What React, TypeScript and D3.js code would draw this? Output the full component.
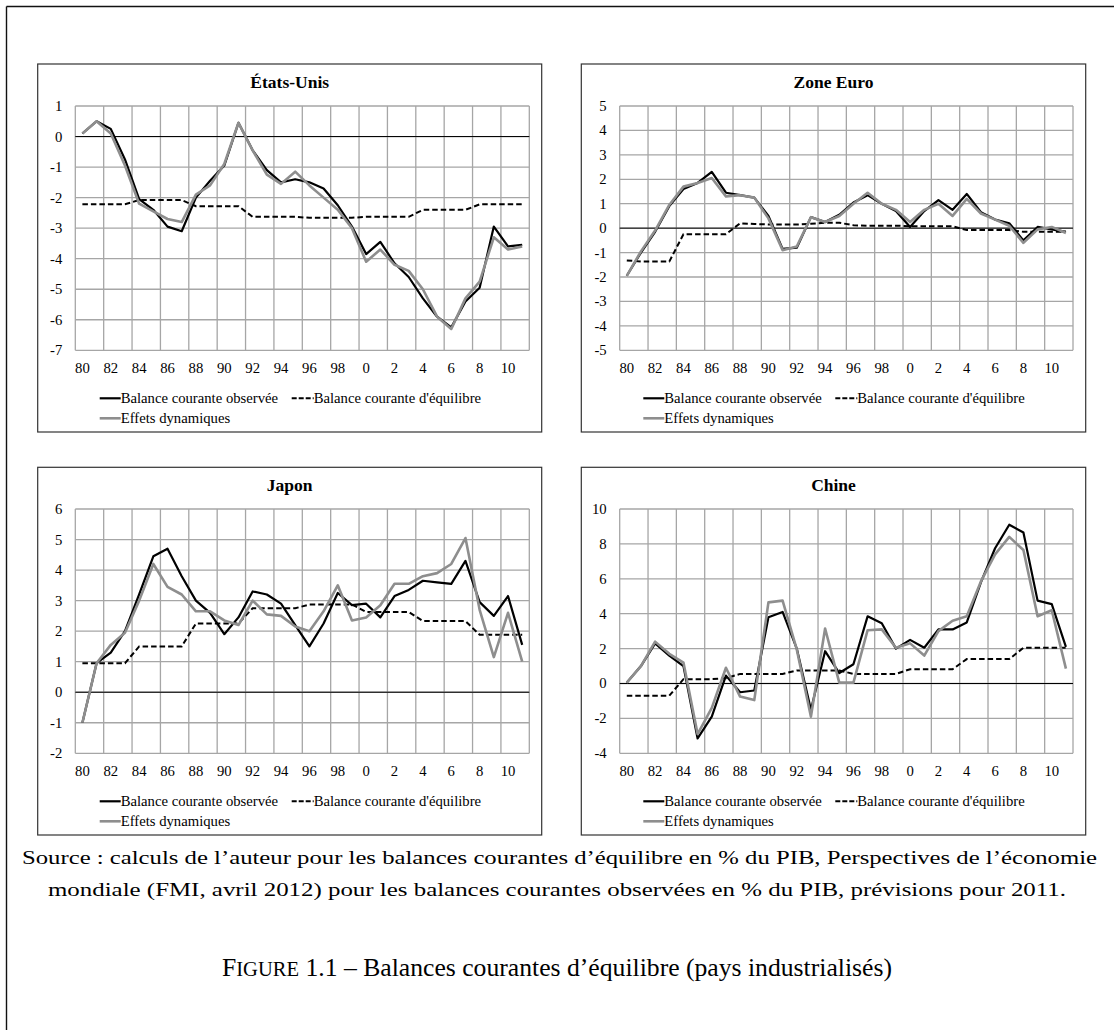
import React from 'react';
import * as d3 from 'd3';

// ---------- data ----------
const YEARS = [1980, 1981, 1982, 1983, 1984, 1985, 1986, 1987, 1988, 1989, 1990, 1991, 1992, 1993, 1994, 1995,
  1996, 1997, 1998, 1999, 2000, 2001, 2002, 2003, 2004, 2005, 2006, 2007, 2008, 2009, 2010, 2011];
const X_TICK_YEARS = [1980, 1982, 1984, 1986, 1988, 1990, 1992, 1994, 1996, 1998, 2000, 2002, 2004, 2006, 2008, 2010];
const X_TICK_LABELS = ['80', '82', '84', '86', '88', '90', '92', '94', '96', '98', '0', '2', '4', '6', '8', '10'];

const SERIES_NAMES = ['Balance courante observée', "Balance courante d'équilibre", 'Effets dynamiques'];
const PANEL_TITLES = ['États-Unis', 'Zone Euro', 'Japon', 'Chine'];

const US_TICKS = [1, 0, -1, -2, -3, -4, -5, -6, -7];
const EZ_TICKS = [5, 4, 3, 2, 1, 0, -1, -2, -3, -4, -5];
const JP_TICKS = [6, 5, 4, 3, 2, 1, 0, -1, -2];
const CN_TICKS = [10, 8, 6, 4, 2, 0, -2, -4];

const US_OBS = [0.1, 0.5, 0.25, -0.75, -2.05, -2.4, -2.95, -3.1, -2.0, -1.45, -0.95, 0.45, -0.45, -1.1, -1.5, -1.4,
  -1.5, -1.7, -2.25, -2.95, -3.85, -3.45, -4.15, -4.6, -5.3, -5.9, -6.25, -5.4, -4.95, -2.95, -3.6, -3.55];
const US_EQ = [-2.22, -2.22, -2.22, -2.22, -2.08, -2.08, -2.08, -2.08, -2.28, -2.28, -2.28, -2.28, -2.63, -2.63, -2.63, -2.63,
  -2.66, -2.66, -2.66, -2.66, -2.63, -2.63, -2.63, -2.63, -2.4, -2.4, -2.4, -2.4, -2.22, -2.22, -2.22, -2.22];
const US_DYN = [0.1, 0.5, 0.1, -0.95, -2.2, -2.45, -2.7, -2.8, -1.9, -1.6, -0.9, 0.45, -0.45, -1.25, -1.55, -1.15,
  -1.6, -2.0, -2.4, -3.0, -4.1, -3.7, -4.2, -4.4, -5.0, -5.9, -6.3, -5.3, -4.75, -3.3, -3.7, -3.6];

const EZ_OBS = [-1.95, -1.0, -0.15, 0.9, 1.6, 1.85, 2.3, 1.45, 1.35, 1.25, 0.5, -0.85, -0.8, 0.45, 0.25, 0.55,
  1.05, 1.35, 1.0, 0.7, 0.05, 0.7, 1.15, 0.75, 1.4, 0.65, 0.35, 0.2, -0.5, 0.05, -0.05, -0.15];
const EZ_EQ = [-1.32, -1.37, -1.37, -1.37, -0.25, -0.25, -0.25, -0.25, 0.2, 0.17, 0.15, 0.15, 0.15, 0.18, 0.22, 0.22,
  0.12, 0.1, 0.1, 0.1, 0.08, 0.08, 0.08, 0.08, -0.08, -0.08, -0.08, -0.08, -0.15, -0.15, -0.15, -0.15];
const EZ_DYN = [-1.95, -0.95, -0.1, 0.95, 1.7, 1.85, 2.05, 1.3, 1.35, 1.25, 0.4, -0.9, -0.75, 0.45, 0.25, 0.5,
  1.0, 1.45, 1.0, 0.75, 0.25, 0.75, 1.0, 0.5, 1.2, 0.6, 0.35, 0.1, -0.6, -0.05, 0.05, -0.2];

const JP_OBS = [-1.0, 0.95, 1.3, 2.0, 3.2, 4.45, 4.7, 3.8, 3.0, 2.6, 1.9, 2.45, 3.3, 3.2, 2.9, 2.2,
  1.5, 2.25, 3.25, 2.85, 2.9, 2.45, 3.15, 3.35, 3.65, 3.6, 3.55, 4.3, 2.95, 2.5, 3.15, 1.55];
const JP_EQ = [0.95, 0.95, 0.95, 0.95, 1.5, 1.5, 1.5, 1.5, 2.25, 2.25, 2.25, 2.25, 2.75, 2.75, 2.75, 2.75,
  2.87, 2.87, 2.87, 2.87, 2.63, 2.63, 2.63, 2.63, 2.33, 2.33, 2.33, 2.33, 1.88, 1.88, 1.88, 1.88];
const JP_DYN = [-1.0, 0.95, 1.55, 1.95, 3.0, 4.2, 3.45, 3.2, 2.65, 2.65, 2.35, 2.2, 3.0, 2.55, 2.5, 2.15,
  2.0, 2.65, 3.5, 2.35, 2.45, 2.85, 3.55, 3.55, 3.8, 3.9, 4.2, 5.05, 2.7, 1.15, 2.6, 1.0];

const CN_OBS = [0.05, 1.0, 2.3, 1.6, 1.0, -3.15, -1.9, 0.45, -0.5, -0.4, 3.8, 4.1, 2.0, -1.5, 1.85, 0.6,
  1.1, 3.85, 3.45, 2.0, 2.5, 2.05, 3.1, 3.1, 3.5, 5.8, 7.75, 9.1, 8.65, 4.75, 4.55, 2.1];
const CN_EQ = [-0.7, -0.7, -0.7, -0.7, 0.25, 0.25, 0.25, 0.3, 0.55, 0.55, 0.55, 0.55, 0.75, 0.75, 0.75, 0.75,
  0.55, 0.55, 0.55, 0.55, 0.82, 0.82, 0.82, 0.82, 1.4, 1.4, 1.4, 1.4, 2.05, 2.05, 2.05, 2.05];
const CN_DYN = [0.05, 1.0, 2.4, 1.7, 1.2, -2.9, -1.4, 0.9, -0.75, -0.95, 4.65, 4.75, 1.95, -1.9, 3.15, 0.05,
  0.05, 3.05, 3.1, 2.05, 2.3, 1.6, 3.0, 3.6, 3.85, 5.85, 7.4, 8.4, 7.65, 3.85, 4.2, 0.85];

const SOURCE_LINE_1 = 'Source : calculs de l\u2019auteur pour les balances courantes d\u2019\u00e9quilibre en % du PIB, Perspectives de l\u2019\u00e9conomie';
const SOURCE_LINE_2 = 'mondiale (FMI, avril 2012) pour les balances courantes observ\u00e9es en % du PIB, pr\u00e9visions pour 2011.';

// ---------- layout / styles ----------
const FONT = '"Liberation Serif", "Times New Roman", serif';
const BLACK = '#000000';
const GRAY = '#8e8e8e';
const GRID = '#a6a6a6';

const PANELS = [
  { title: PANEL_TITLES[0], ticks: US_TICKS, obs: US_OBS, eq: US_EQ, dyn: US_DYN, box: [37.7, 64, 541.7, 432], plot: [75.3, 106, 529.3, 350.3] },
  { title: PANEL_TITLES[1], ticks: EZ_TICKS, obs: EZ_OBS, eq: EZ_EQ, dyn: EZ_DYN, box: [581.3, 64, 1085.7, 432], plot: [619.7, 106, 1073, 350.3] },
  { title: PANEL_TITLES[2], ticks: JP_TICKS, obs: JP_OBS, eq: JP_EQ, dyn: JP_DYN, box: [37.7, 467.3, 541.7, 835], plot: [75.3, 509, 529.3, 753.3] },
  { title: PANEL_TITLES[3], ticks: CN_TICKS, obs: CN_OBS, eq: CN_EQ, dyn: CN_DYN, box: [581.3, 467.3, 1085.7, 835], plot: [619.7, 509, 1073, 753.3] },
];

type PanelProps = { title: string; ticks: number[]; obs: number[]; eq: number[]; dyn: number[]; box: number[]; plot: number[] };

function Panel({ title, ticks, obs, eq, dyn, box, plot }: PanelProps) {
  const [bx0, by0, bx1, by1] = box;
  const [px0, py0, px1, py1] = plot;
  const x = d3.scaleBand<number>().domain(YEARS).range([px0, px1]).paddingInner(0).paddingOuter(0);
  const y = d3.scaleLinear().domain([d3.min(ticks) as number, d3.max(ticks) as number]).range([py1, py0]);
  const cx = (yr: number) => (x(yr) as number) + x.bandwidth() / 2;
  const line = d3.line<number>().x((_, i) => cx(YEARS[i])).y((d) => y(d));
  const vGrid = [...X_TICK_YEARS.map((yr) => x(yr) as number), px1];
  const cxBox = (bx0 + bx1) / 2;
  const row1 = py1 + 48;
  const row2 = py1 + 68;
  const l1 = bx0 + 62;
  const l2 = bx0 + 254;
  const legendFont = { fontFamily: FONT, fontSize: 14.7, fill: '#000' };
  return (
    <g>
      <rect x={bx0} y={by0} width={bx1 - bx0} height={by1 - by0} fill="#fff" stroke="#333" strokeWidth={1.2} />
      <text x={cxBox} y={py0 - 18.5} textAnchor="middle" style={{ fontFamily: FONT, fontSize: 17.5, fontWeight: 'bold' }}>{title}</text>
      {ticks.map((t) => (
        <line key={'h' + t} x1={px0} x2={px1} y1={y(t)} y2={y(t)} stroke={GRID} strokeWidth={1.3} />
      ))}
      {vGrid.map((gx, i) => (
        <line key={'v' + i} x1={gx} x2={gx} y1={py0} y2={py1} stroke={GRID} strokeWidth={1.3} />
      ))}
      <line x1={px0} x2={px1} y1={y(0)} y2={y(0)} stroke="#000" strokeWidth={1} />
      {ticks.map((t) => (
        <text key={'yt' + t} x={px0 - 13} y={y(t)} dy="0.34em" textAnchor="end" style={{ fontFamily: FONT, fontSize: 14.7 }}>{t}</text>
      ))}
      {X_TICK_YEARS.map((yr, i) => (
        <text key={'xt' + yr} x={cx(yr)} y={py1 + 23} textAnchor="middle" style={{ fontFamily: FONT, fontSize: 14.7 }}>{X_TICK_LABELS[i]}</text>
      ))}
      <path d={line(obs) as string} fill="none" stroke={BLACK} strokeWidth={2.2} strokeLinejoin="round" />
      <path d={line(eq) as string} fill="none" stroke={BLACK} strokeWidth={2} strokeDasharray="5.5,3" />
      <path d={line(dyn) as string} fill="none" stroke={GRAY} strokeWidth={2.6} strokeLinejoin="round" />
      {/* legend */}
      <line x1={l1} x2={l1 + 21} y1={row1} y2={row1} stroke={BLACK} strokeWidth={2.2} />
      <text x={l1 + 21} y={row1} dy="0.34em" style={legendFont}>{SERIES_NAMES[0]}</text>
      <line x1={l2} x2={l2 + 22} y1={row1} y2={row1} stroke={BLACK} strokeWidth={2} strokeDasharray="5,2" />
      <text x={l2 + 22} y={row1} dy="0.34em" style={legendFont}>{SERIES_NAMES[1]}</text>
      <line x1={l1} x2={l1 + 21} y1={row2} y2={row2} stroke={GRAY} strokeWidth={2.6} />
      <text x={l1 + 21} y={row2} dy="0.34em" style={legendFont}>{SERIES_NAMES[2]}</text>
    </g>
  );
}

export default function App() {
  return (
    <svg width={1114} height={1030} viewBox="0 0 1114 1030" style={{ position: 'absolute', left: 0, top: 0, background: '#fff' }}>
      <rect x={0} y={0} width={1114} height={1030} fill="#fff" />
      <line x1={6.5} x2={1114} y1={6.5} y2={6.5} stroke="#111" strokeWidth={1.4} />
      <line x1={6.5} x2={6.5} y1={6.5} y2={1030} stroke="#111" strokeWidth={1.4} />
      {PANELS.map((p) => (
        <Panel key={p.title} {...p} />
      ))}
      <text x={22} y={864} textLength={1075} lengthAdjust="spacingAndGlyphs" style={{ fontFamily: FONT, fontSize: 18 }}>{SOURCE_LINE_1}</text>
      <text x={48} y={896} textLength={1018} lengthAdjust="spacingAndGlyphs" style={{ fontFamily: FONT, fontSize: 18 }}>{SOURCE_LINE_2}</text>
      <text x={222} y={976} textLength={670} lengthAdjust="spacingAndGlyphs" style={{ fontFamily: FONT, fontSize: 25 }}>
        <tspan>F</tspan>
        <tspan style={{ fontSize: 20 }}>IGURE</tspan>
        <tspan>{' 1.1 \u2013 Balances courantes d\u2019\u00e9quilibre (pays industrialis\u00e9s)'}</tspan>
      </text>
    </svg>
  );
}
